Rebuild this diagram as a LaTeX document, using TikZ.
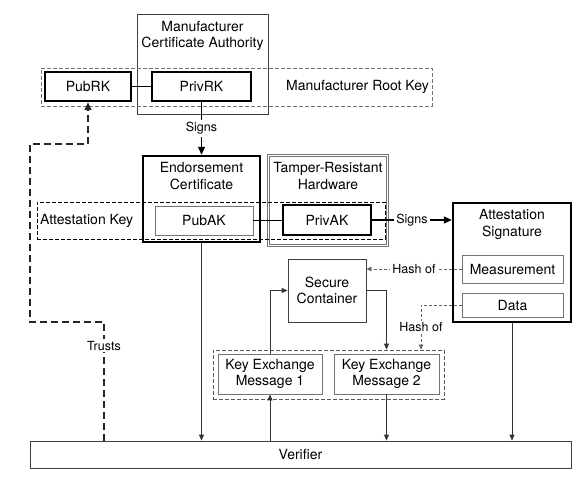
\documentclass[tikz,border=0pt]{standalone}
\usepackage{fontspec}
\setmainfont{TeX Gyre Heros}
\usetikzlibrary{arrows.meta,positioning}

\begin{document}
\begin{tikzpicture}[x=1pt, y=-1pt,
  every node/.style={font=\fontsize{14}{16.5}\selectfont},
  cle/.style={draw=black, line width=2.4pt, minimum height=29pt},
  boite/.style={draw=black!55, line width=0.9pt},
  cadre/.style={draw=black!75, line width=0.8pt},
  groupe/.style={draw=black!65, line width=0.8pt, dash pattern=on 4pt off 2pt},
  titre/.style={below=4pt, align=center},
  fleche/.style={draw=black!80, line width=0.9pt, -{Triangle[length=6pt, width=5pt]}},
  signe/.style={draw=black, line width=1.3pt, -{Triangle[length=8pt, width=7pt]}},
  hachage/.style={draw=black!60, line width=0.8pt, dash pattern=on 3pt off 2pt, -{Triangle[length=5pt, width=4.5pt]}},
  confiance/.style={draw=black!85, line width=1.6pt, dash pattern=on 7pt off 4pt, -{Triangle[length=8pt, width=7pt]}},
  etiq/.style={fill=white, font=\fontsize{12.5}{15}\selectfont, inner sep=2pt},
]
\useasboundingbox (0,0) rectangle (585,484);

% Autorité du fabricant
\node[cadre, minimum width=131pt, minimum height=100pt] (mca) at (202.5,64) {};
\node[titre] (mcalab) at (mca.north) {Manufacturer\\Certificate Authority};

% Clé racine
\node[groupe, draw=black!55, minimum width=391pt, minimum height=38pt] (mrk) at (236.5,87) {};
\node[cle, minimum width=86pt] (pubrk) at (88,86.5) {PubRK};
\node[cle, minimum width=99pt] (privrk) at (201.5,86.5) {PrivRK};
\node[anchor=east] (mrklab) at (mrk.east) {Manufacturer Root Key};

% Certificat d'endossement
\node[cle, minimum width=117pt, minimum height=86pt] (ec) at (201.5,199) {};
\node[titre] (eclab) at (ec.north) {Endorsement\\Certificate};

% Matériel inviolable
\node[draw=black!55, double, double distance=1.6pt, line width=0.6pt,
  minimum width=119pt, minimum height=90pt] (trh) at (328,200.5) {};
\node[titre] (trhlab) at (trh.north) {Tamper-Resistant\\Hardware};

% Clé d'attestation
\node[groupe, draw=black, minimum width=348pt, minimum height=37pt] (ak) at (211,220.5) {};
\node[anchor=west] (aklab) at (ak.west) {Attestation Key};
\node[boite, minimum width=98pt, minimum height=29pt] (pubak) at (204,220.5) {PubAK};
\node[cle, minimum width=88pt, minimum height=30pt] (privak) at (327,220) {PrivAK};

% Signature d'attestation
\node[cle, minimum width=118pt, minimum height=119pt] (as) at (512,262.5) {};
\node[titre] (aslab) at (as.north) {Attestation\\Signature};
\node[boite, minimum width=101pt, minimum height=28pt] (meas) at (512.5,269) {Measurement};
\node[boite, minimum width=101pt, minimum height=24pt] (data) at (512.5,305) {Data};

% Conteneur
\node[cadre, minimum width=78pt, minimum height=63pt, align=center] (sc) at (327,290.5) {Secure\\Container};

% Échange de clés
\node[groupe, minimum width=231pt, minimum height=49pt] (kx) at (328.5,374.5) {};
\node[boite, minimum width=104pt, minimum height=40pt, align=center] (kem1) at (270,374) {Key Exchange\\Message 1};
\node[boite, minimum width=105pt, minimum height=40pt, align=center] (kem2) at (386.5,374) {Key Exchange\\Message 2};

% Vérifieur
\node[cadre, minimum width=541pt, minimum height=27pt] (ver) at (300.5,454.5) {Verifier};

% Liens
\draw[black, line width=1.3pt] (pubrk) -- (privrk);
\draw[signe] (privrk) -- node[etiq] {Signs} (ec);
\draw[black, line width=1.3pt] (pubak.east) -- (pubak.east -| privak.west);
\draw[signe] (privak.east) -- node[etiq] {Signs} (privak.east -| as.west);

\draw[fleche] (ec.south) -- (ec.south |- ver.north);
\draw[fleche] (kem1.south |- ver.north) -- (kem1.south);
\draw[fleche] (kem1.north) |- (sc.west);
\draw[fleche] (sc.east) -| (kem2.north |- kx.north);
\draw[fleche] (kem2.south) -- (kem2.south |- ver.north);
\draw[fleche] (as.south) -- (as.south |- ver.north);

% Hachages
\coordinate (hk) at (421,0);
\draw[hachage] (meas.west) -- node[etiq] {Hash of} (meas.west -| sc.east);
\draw[hachage] (data.west) -| node[etiq, pos=0.75] {Hash of} (hk |- kx.north);

% Confiance
\coordinate (t1) at (104,322);
\coordinate (t2) at (30,144);
\draw[confiance] (t1 |- ver.north) -- node[etiq, pos=0.8] {Trusts} (t1) -| (t2) -| (pubrk.south);

\end{tikzpicture}
\end{document}
